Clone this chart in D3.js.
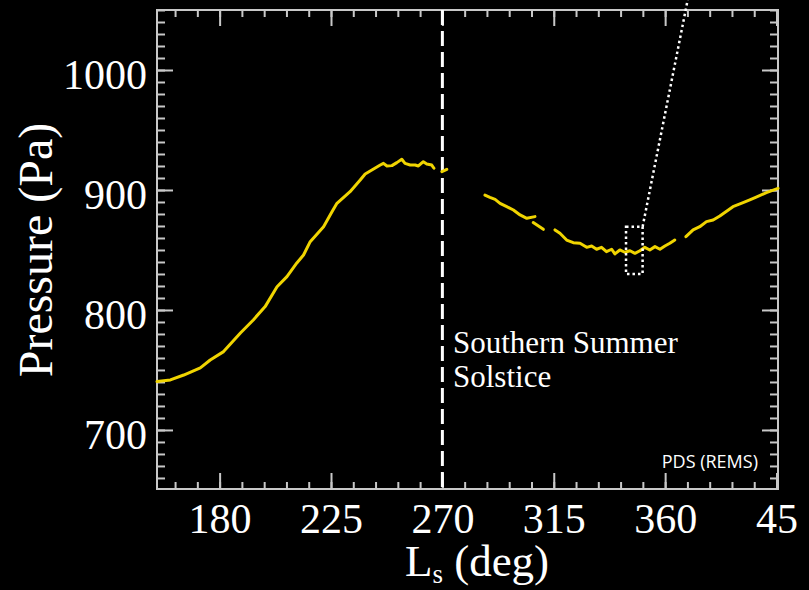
<!DOCTYPE html>
<html>
<head>
<meta charset="utf-8">
<script src="https://cdn.jsdelivr.net/npm/d3@7"></script>
<style>
  body { margin: 0; background: #000; }
  svg { display: block; background: #000; }
  .serif { font-family: "Liberation Serif", "DejaVu Serif", serif; fill: #fff; }
</style>
</head>
<body>
<div id="chart"></div>
<script>
var width = 809;
var height = 590;

// REMS pressure as [Ls (deg), Pa] pieces
var riseSeg = [[154.7,740.3],[160.1,741.7],[165.5,745.8],[172.2,751.7],[176.2,758.3],[181.6,765.3],
  [188.4,780.8],[193.6,791.7],[198.4,802.8],[203.2,819.4],[207.2,827.8],[211.2,839.2],[213.9,845.8],
  [216.6,856.9],[222.0,869.4],[225.4,881.9],[227.4,888.9],[232.7,898.6],[236.8,908.3],[238.8,913.3],
  [244.9,920.8],[246.2,922.2],[247.6,920],[249.6,920.3],[251.6,922.8],[253.6,925.6],[254.9,922.2],
  [257.0,920.8],[259.0,920.8],[260.3,920],[262.3,923.6],[263.7,921.7],[265.7,920.8],[266.6,918.1]];
var solsticeSeg = [[269.8,915.3],[271.8,917.2]];
var fallSeg = [[287.2,895.8],[289.2,893.9],[291.3,892.2],[293.3,888.9],[296.0,886.1],[298.7,883.3],
  [301.4,879.2],[304.1,876.4],[307.4,877.8]];
var fallSeg2 = [[306.7,872.8],[310.8,867.2]];
var minSeg = [[315.5,866.7],[317.5,863.9],[320.2,858.3],[322.9,856.1],[325.6,855.6],[328.3,852.2],
  [330.3,853.3],[332.3,850.6],[334.3,852.2],[336.3,848.6],[338.4,850.6],[339.7,846.7],[341.7,850],
  [343.7,848.1],[345.8,849.4],[347.8,847.2],[349.8,849.4],[351.8,852.2],[353.8,850],[355.9,852.8],
  [357.9,850.6],[359.9,853.3],[361.9,855.6],[363.9,858.3]];
var riseSeg2 = [[368.4,861.1],[371.3,866.7],[374.0,869.4],[376.7,873.6],[379.4,875],[382.1,878.3],
  [387.4,886.1],[391.5,889.4],[394.2,891.7],[396.8,894],[400.9,897.8],[405.6,901.4]];
var segments = [riseSeg, solsticeSeg, fallSeg, fallSeg2, minSeg, riseSeg2];

var xTicks = [180, 225, 270, 315, 360, 405];
var yTicks = [700, 800, 900, 1000];
var solsticeLs = 270;
// zoom box + leader line (Ls, Pa)
var zoomBox = [[344.2, 830], [350.9, 869.4]];
var zoomLeader = [[350.9, 869.4], [369.1, 1058.3]];

var xScale = d3.scaleLinear().domain([154.7, 405.6]).range([157, 778]);
var yScale = d3.scaleLinear().domain([650.8, 1050]).range([489, 10]);

var svg = d3.select("#chart")
  .append("svg")
  .attr("width", width)
  .attr("height", height);

var axisColor = "#c8c8c8";

// frame
svg.append("rect")
  .attr("x", xScale.range()[0])
  .attr("y", yScale.range()[1])
  .attr("width", xScale.range()[1] - xScale.range()[0])
  .attr("height", yScale.range()[0] - yScale.range()[1])
  .attr("fill", "none")
  .attr("stroke", axisColor)
  .attr("stroke-width", 2);

var minorX = d3.range(162, 406, 9);
var minorY = d3.range(660, 1051, 10);

function styleAxis(g) {
  g.select(".domain").remove();
  g.selectAll(".tick line").attr("stroke", axisColor).attr("stroke-width", 2);
}

// bottom
svg.append("g")
  .attr("transform", "translate(0," + yScale.range()[0] + ")")
  .call(d3.axisBottom(xScale).tickValues(minorX).tickSize(-7).tickFormat(""))
  .call(styleAxis);
var xAxisG = svg.append("g")
  .attr("transform", "translate(0," + yScale.range()[0] + ")")
  .call(d3.axisBottom(xScale).tickValues(xTicks).tickSize(-16).tickPadding(14)
    .tickFormat(function(d) { return d > 360 ? d - 360 : d; }))
  .call(styleAxis);
xAxisG.selectAll("text")
  .attr("class", "serif")
  .attr("dy", "0.71em")
  .style("font-size", "42px");

// top
svg.append("g")
  .attr("transform", "translate(0," + yScale.range()[1] + ")")
  .call(d3.axisTop(xScale).tickValues(minorX).tickSize(-7).tickFormat(""))
  .call(styleAxis);
svg.append("g")
  .attr("transform", "translate(0," + yScale.range()[1] + ")")
  .call(d3.axisTop(xScale).tickValues(xTicks).tickSize(-16).tickFormat(""))
  .call(styleAxis);

// left
svg.append("g")
  .attr("transform", "translate(" + xScale.range()[0] + ",0)")
  .call(d3.axisLeft(yScale).tickValues(minorY).tickSize(-8).tickFormat(""))
  .call(styleAxis);
var yAxisG = svg.append("g")
  .attr("transform", "translate(" + xScale.range()[0] + ",0)")
  .call(d3.axisLeft(yScale).tickValues(yTicks).tickSize(-16).tickPadding(10).tickFormat(d3.format("d")))
  .call(styleAxis);
yAxisG.selectAll("text")
  .attr("class", "serif")
  .attr("dy", "0.45em")
  .style("font-size", "42px");

// right
svg.append("g")
  .attr("transform", "translate(" + xScale.range()[1] + ",0)")
  .call(d3.axisRight(yScale).tickValues(minorY).tickSize(-8).tickFormat(""))
  .call(styleAxis);
svg.append("g")
  .attr("transform", "translate(" + xScale.range()[1] + ",0)")
  .call(d3.axisRight(yScale).tickValues(yTicks).tickSize(-16).tickFormat(""))
  .call(styleAxis);

// solstice line
svg.append("line")
  .attr("x1", xScale(solsticeLs)).attr("x2", xScale(solsticeLs))
  .attr("y1", yScale.range()[1]).attr("y2", yScale.range()[0])
  .attr("stroke", "#fff")
  .attr("stroke-width", 3)
  .attr("stroke-dasharray", "15,6");

// pressure pieces
var line = d3.line()
  .x(function(d) { return xScale(d[0]); })
  .y(function(d) { return yScale(d[1]); });

svg.selectAll("path.pres")
  .data(segments)
  .enter()
  .append("path")
  .attr("class", "pres")
  .attr("d", line)
  .attr("fill", "none")
  .attr("stroke", "#f0d400")
  .attr("stroke-width", 3)
  .attr("stroke-linejoin", "round")
  .attr("stroke-linecap", "round");

// dotted zoom box and leader
svg.append("rect")
  .attr("x", xScale(zoomBox[0][0]))
  .attr("y", yScale(zoomBox[1][1]))
  .attr("width", xScale(zoomBox[1][0]) - xScale(zoomBox[0][0]))
  .attr("height", yScale(zoomBox[0][1]) - yScale(zoomBox[1][1]))
  .attr("fill", "none")
  .attr("stroke", "#fff")
  .attr("stroke-width", 2.5)
  .attr("stroke-dasharray", "2.5,3");
svg.append("path")
  .attr("d", line(zoomLeader))
  .attr("fill", "none")
  .attr("stroke", "#fff")
  .attr("stroke-width", 2.5)
  .attr("stroke-dasharray", "2.5,3");

// labels
svg.append("text")
  .attr("class", "serif")
  .attr("x", 453)
  .attr("y", 353)
  .style("font-size", "31px")
  .text("Southern Summer");
svg.append("text")
  .attr("class", "serif")
  .attr("x", 453)
  .attr("y", 387)
  .style("font-size", "31px")
  .text("Solstice");

svg.append("text")
  .attr("x", 758)
  .attr("y", 468)
  .attr("text-anchor", "end")
  .style("font-family", "'Open Sans', 'Liberation Sans', sans-serif")
  .style("font-size", "18px")
  .attr("fill", "#fff")
  .text("PDS (REMS)");

// axis titles
svg.append("text")
  .attr("class", "serif")
  .attr("transform", "translate(52,250) rotate(-90)")
  .attr("text-anchor", "middle")
  .style("font-size", "48px")
  .text("Pressure (Pa)");

var xTitle = svg.append("text")
  .attr("class", "serif")
  .attr("x", 477)
  .attr("y", 576)
  .attr("text-anchor", "middle")
  .style("font-size", "45px");
xTitle.append("tspan").text("L");
xTitle.append("tspan").attr("dy", 7).style("font-size", "27px").text("s");
xTitle.append("tspan").attr("dy", -7).text(" (deg)");
</script>
</body>
</html>
